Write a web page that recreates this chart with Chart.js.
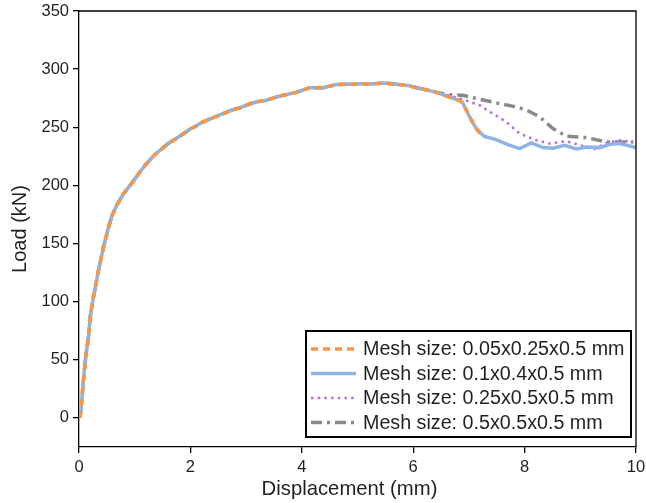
<!DOCTYPE html>
<html>
<head>
<meta charset="utf-8">
<script src="https://cdn.jsdelivr.net/npm/chart.js@4"></script>
<style>
  html, body { margin: 0; padding: 0; background: #fff; }
  #wrap { width: 646px; height: 503px; }
</style>
</head>
<body>
<div id="wrap"><canvas id="loadChart" width="646" height="503"></canvas></div>
<script>
// shared pre-peak path (all meshes agree here)
const sharedDisp = [0.02, 0.05, 0.08, 0.12, 0.17, 0.21, 0.26, 0.35, 0.44, 0.53, 0.60, 0.68, 0.80, 0.95,
    1.10, 1.20, 1.35, 1.50, 1.60, 1.80, 2.01, 2.10, 2.20, 2.37, 2.55, 2.73, 2.90, 3.06, 3.20, 3.35,
    3.51, 3.66, 3.90, 4.14, 4.38, 4.62, 4.85, 5.10, 5.30, 5.46, 5.70, 5.90, 6.06, 6.25, 6.42];
const sharedLoad = [0, 15, 33, 52, 70, 90, 104, 127, 147, 164, 175, 183, 193, 202,
    212, 218, 226, 232, 236, 242, 249, 251, 254, 257.5, 261, 264.5, 267, 270, 272, 273,
    275.5, 277.5, 280, 284, 284, 286.7, 287, 287.5, 287.5, 288, 287, 286, 284, 282, 280];

// post-peak tails per mesh
const fineDisp = [6.65, 6.83, 6.89, 7.00, 7.13, 7.25];
const fineLoad = [276, 273, 271, 260, 249, 242];

const mediumDisp = [6.65, 6.83, 6.89, 7.00, 7.13, 7.28, 7.49, 7.70, 7.91, 8.12, 8.33, 8.51, 8.72, 8.93, 9.11, 9.35, 9.53, 9.71, 10.0];
const mediumLoad = [276, 273, 271, 260, 249, 242, 239.4, 235, 231.7, 236.5, 232.5, 232, 234.5, 231.4, 233, 232.5, 235.4, 236, 232.5];

const coarseDisp = [6.65, 6.83, 6.95, 7.19, 7.43, 7.67, 7.91, 8.21, 8.45, 8.75, 9.00, 9.23, 9.47, 9.71, 9.95];
const coarseLoad = [277, 275, 273, 269, 261.7, 254.6, 244.6, 238.8, 236, 238, 234.5, 230.8, 236.5, 238.8, 237.4];

const coarsestDisp = [6.65, 6.89, 7.20, 7.49, 7.80, 8.03, 8.27, 8.51, 8.75, 9.11, 9.47, 9.95];
const coarsestLoad = [278, 277.5, 274, 271, 268, 265, 258.9, 248.9, 242.3, 241.1, 237.4, 237.4];

const seriesLabels = [
    "Mesh size: 0.05x0.25x0.5 mm",
    "Mesh size: 0.1x0.4x0.5 mm",
    "Mesh size: 0.25x0.5x0.5 mm",
    "Mesh size: 0.5x0.5x0.5 mm"
];
const xTicks = [0, 2, 4, 6, 8, 10];
const yTicks = [0, 50, 100, 150, 200, 250, 300, 350];

const textColor = "#231f20";
const fontFamily = "'Liberation Sans', Arial, sans-serif";

function toPoints(xs, ys) {
    return xs.map((x, i) => ({ x: x, y: ys[i] }));
}

function withShared(xs, ys) {
    return toPoints(sharedDisp.concat(xs), sharedLoad.concat(ys));
}

// top/right frame + x axis title (sits a bit left of centre in the original)
const framePlugin = {
    id: "frame",
    afterDatasetsDraw(chart) {
        const { ctx, chartArea: a } = chart;
        ctx.save();
        ctx.strokeStyle = "#000";
        ctx.lineWidth = 1.3;
        ctx.beginPath();
        ctx.moveTo(a.left, a.top);
        ctx.lineTo(a.right, a.top);
        ctx.lineTo(a.right, a.bottom);
        ctx.stroke();

        ctx.fillStyle = textColor;
        ctx.font = "20.3px " + fontFamily;
        ctx.textAlign = "center";
        ctx.textBaseline = "middle";
        ctx.fillText("Displacement (mm)", (a.left + a.right) / 2 - 8, 489);
        ctx.restore();
    }
};

// boxed legend inside the plot, bottom right
const boxLegend = {
    id: "boxLegend",
    afterDraw(chart) {
        const ctx = chart.ctx;
        const left = 306, top = 331, w = 325, h = 106;
        ctx.save();
        ctx.fillStyle = "#fff";
        ctx.fillRect(left, top, w, h);
        ctx.strokeStyle = "#000";
        ctx.lineWidth = 2;
        ctx.strokeRect(left, top, w, h);
        ctx.font = "19.7px " + fontFamily;
        ctx.textBaseline = "middle";
        chart.data.datasets.forEach((ds, i) => {
            const y = top + 18 + i * 24.5;
            ctx.strokeStyle = ds.borderColor;
            ctx.lineWidth = ds.borderWidth;
            ctx.setLineDash(ds.borderDash || []);
            ctx.beginPath();
            ctx.moveTo(left + 5, y);
            ctx.lineTo(left + 50, y);
            ctx.stroke();
            ctx.setLineDash([]);
            ctx.fillStyle = textColor;
            ctx.fillText(ds.label, left + 57, y + 1);
        });
        ctx.restore();
    }
};

const ctx = document.getElementById("loadChart").getContext("2d");

new Chart(ctx, {
    type: "scatter",
    data: {
        datasets: [{
            label: seriesLabels[0],
            data: withShared(fineDisp, fineLoad),
            borderColor: "#f79646",
            borderWidth: 3.5,
            borderDash: [7, 5]
        }, {
            label: seriesLabels[1],
            data: withShared(mediumDisp, mediumLoad),
            borderColor: "#8db4e2",
            borderWidth: 3.5
        }, {
            label: seriesLabels[2],
            data: withShared(coarseDisp, coarseLoad),
            borderColor: "#b46ee8",
            borderWidth: 2.6,
            borderDash: [2.5, 4.2]
        }, {
            label: seriesLabels[3],
            data: withShared(coarsestDisp, coarsestLoad),
            borderColor: "#8a8a8a",
            borderWidth: 3.5,
            borderDash: [11, 5, 3, 5]
        }]
    },
    options: {
        responsive: false,
        animation: false,
        showLine: true,
        elements: {
            point: { radius: 0, hoverRadius: 0 },
            line: { tension: 0, fill: false }
        },
        layout: { padding: { top: 11, right: 10, left: 0, bottom: 0 } },
        plugins: {
            legend: { display: false },
            tooltip: { enabled: false }
        },
        scales: {
            x: {
                type: "linear",
                min: 0,
                max: 10,
                afterBuildTicks: axis => { axis.ticks = xTicks.map(v => ({ value: v })); },
                afterFit: axis => {
                    axis.height = 56;
                    axis.paddingLeft = 0;
                    axis.paddingRight = 0;
                },
                grid: { drawOnChartArea: false, tickLength: 6, color: "#000", lineWidth: 1.3 },
                border: { color: "#000", width: 1.3 },
                ticks: { color: textColor, padding: 5, font: { size: 16.5, family: fontFamily } },
                title: { display: false }
            },
            y: {
                min: -25,
                max: 350,
                afterBuildTicks: axis => { axis.ticks = yTicks.map(v => ({ value: v })); },
                afterFit: axis => {
                    axis.width = 79;
                    axis.paddingTop = 0;
                    axis.paddingBottom = 0;
                },
                grid: { drawOnChartArea: false, tickLength: 6, color: "#000", lineWidth: 1.3 },
                border: { color: "#000", width: 1.3 },
                ticks: { color: textColor, padding: 4, font: { size: 16.5, family: fontFamily } },
                title: {
                    display: true,
                    text: "Load (kN)",
                    color: textColor,
                    padding: { top: 8, bottom: 0 },
                    font: { size: 20, family: fontFamily }
                }
            }
        }
    },
    plugins: [framePlugin, boxLegend]
});
</script>
</body>
</html>
